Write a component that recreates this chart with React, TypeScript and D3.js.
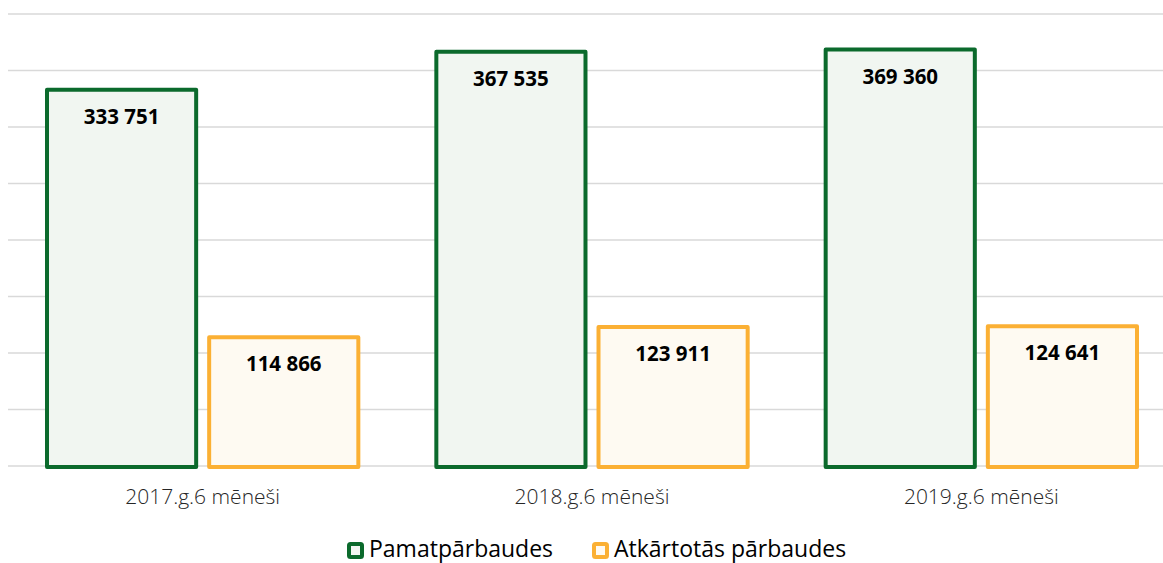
import React, { useRef, useEffect } from 'react';
import * as d3 from 'd3';

const categories = ['2017.g.6 mēneši', '2018.g.6 mēneši', '2019.g.6 mēneši'];
const seriesNames = ['Pamatpārbaudes', 'Atkārtotās pārbaudes'];
const pamat = [333751, 367535, 369360];
const atkartotas = [114866, 123911, 124641];
const gridTicks = [0, 50000, 100000, 150000, 200000, 250000, 300000, 350000, 400000];

const strokes = ['#0b6a2c', '#fbb034'];
const fills = ['#f1f6f1', '#fefaf2'];

const App: React.FC = () => {
  const svgRef = useRef<SVGSVGElement>(null);
  const width = 1163;
  const height = 563;

  useEffect(() => {
    document.body.style.margin = '0';
    if (!svgRef.current) return;
    const svg = d3.select(svgRef.current);
    svg.selectAll('*').remove();

    const margin = { top: 14, left: 8, right: -13, bottom: 97 };
    const innerW = width - margin.left - margin.right;
    const innerH = height - margin.top - margin.bottom;

    const g = svg.append('g').attr('transform', `translate(${margin.left},${margin.top})`);

    const x0 = d3.scaleBand().domain(categories).range([0, innerW]).paddingInner(0).paddingOuter(0);
    const x1 = d3.scaleBand().domain(['0', '1']).range([37, x0.bandwidth() - 37]).paddingInner(18 / 324);
    const y = d3.scaleLinear().domain([0, 400000]).range([innerH, 0]);

    // Grid lines
    g.selectAll('.grid')
      .data(gridTicks)
      .join('line')
      .attr('x1', 0)
      .attr('x2', innerW)
      .attr('y1', d => y(d))
      .attr('y2', d => y(d))
      .attr('stroke', '#d9d9d9')
      .attr('stroke-width', 1.5);

    const rows = categories.map((c, i) => ({ cat: c, vals: [pamat[i], atkartotas[i]] }));

    const groups = g.selectAll('.grp')
      .data(rows)
      .join('g')
      .attr('transform', d => `translate(${x0(d.cat)},0)`);

    const sw = 4;
    groups.selectAll('rect')
      .data(d => d.vals.map((v, k) => ({ v, k })))
      .join('rect')
      .attr('x', d => (x1(String(d.k)) || 0) + sw / 2)
      .attr('y', d => y(d.v) + sw / 2 - 1)
      .attr('width', x1.bandwidth() - sw)
      .attr('height', d => innerH - y(d.v) - sw / 2 + 2)
      .attr('fill', d => fills[d.k])
      .attr('stroke', d => strokes[d.k])
      .attr('stroke-width', sw)
      .attr('stroke-linejoin', 'round');

    groups.selectAll('text.val')
      .data(d => d.vals.map((v, k) => ({ v, k })))
      .join('text')
      .attr('class', 'val')
      .attr('x', d => (x1(String(d.k)) || 0) + x1.bandwidth() / 2)
      .attr('y', d => y(d.v) + 35)
      .attr('text-anchor', 'middle')
      .style('font-family', '"Open Sans", sans-serif')
      .style('font-weight', 700)
      .style('font-size', '20.5px')
      .style('fill', '#000')
      .text(d => d3.format(',')(d.v).replace(/,/g, ' '));

    // Category labels
    g.selectAll('.cat')
      .data(categories)
      .join('text')
      .attr('x', d => (x0(d) || 0) + x0.bandwidth() / 2)
      .attr('y', innerH + 38)
      .attr('text-anchor', 'middle')
      .style('font-family', '"Open Sans", sans-serif')
      .style('font-weight', 300)
      .style('font-size', '21px')
      .style('fill', '#262626')
      .text(d => d);

    // Legend
    const legendX = [347, 592];
    const lg = svg.selectAll('.leg')
      .data(seriesNames)
      .join('g')
      .attr('transform', (d, i) => `translate(${legendX[i]},542)`);
    lg.append('rect')
      .attr('x', 2)
      .attr('y', 2)
      .attr('width', 13)
      .attr('height', 13)
      .attr('rx', 1.5)
      .attr('fill', (d, i) => fills[i])
      .attr('stroke', (d, i) => strokes[i])
      .attr('stroke-width', 4);
    lg.append('text')
      .attr('x', 22)
      .attr('y', 15)
      .style('font-family', '"Open Sans", sans-serif')
      .style('font-size', '23px')
      .style('fill', '#000')
      .text(d => d);
  }, []);

  return <svg ref={svgRef} width={width} height={height} style={{ display: 'block', background: '#fff' }} />;
};

export default App;
